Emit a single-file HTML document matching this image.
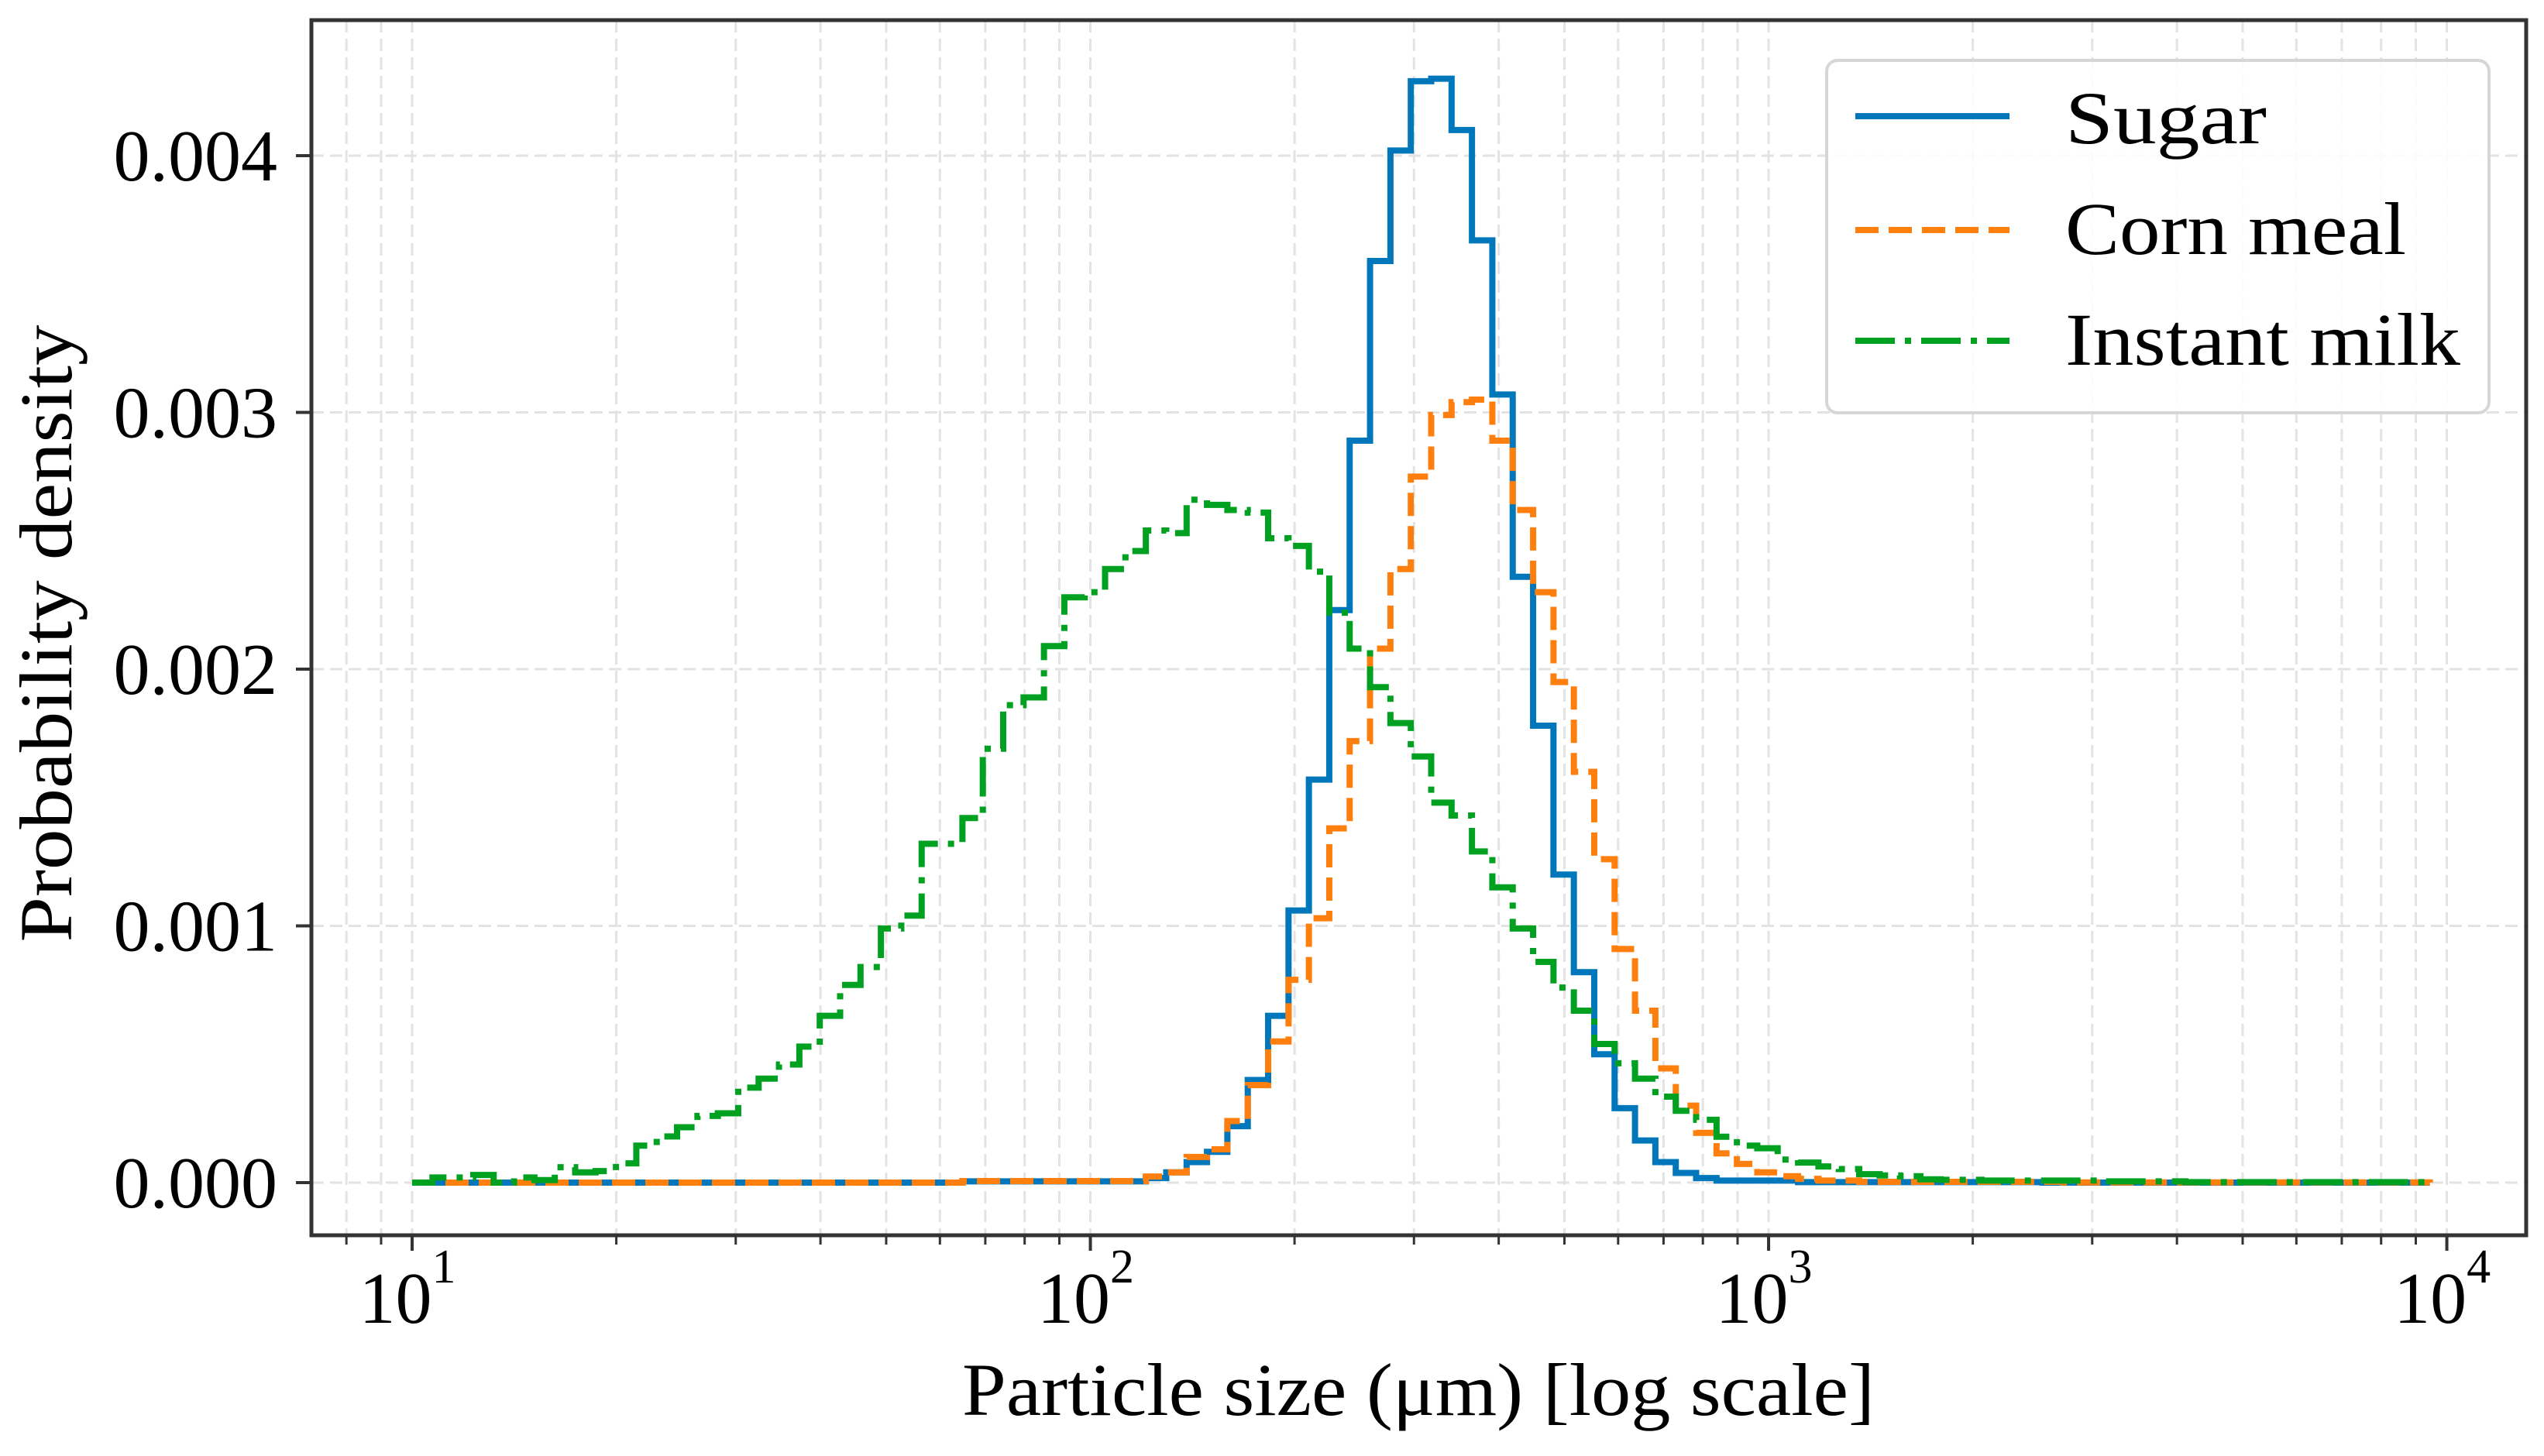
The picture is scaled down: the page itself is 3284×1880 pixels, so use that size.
<!DOCTYPE html>
<html><head><meta charset="utf-8"><style>
html,body{margin:0;padding:0;background:#fff;}
svg{display:block;font-family:"Liberation Serif",serif;}
</style></head><body>
<svg id="chart" width="3284" height="1880" viewBox="0 0 3284 1880" xmlns="http://www.w3.org/2000/svg">
<rect x="0" y="0" width="3284" height="1880" fill="#fff"/>
<g id="grid"></g>
<g id="series"></g>
<g id="axes"></g>
<g id="legend"></g>
</svg>
<script>
// ---- data ----
const seriesNames = ["Sugar", "Corn meal", "Instant milk"];
const binLogStart = 1;
const binLogEnd = 3.975;
const sugar = [0,0,0,0,0,0,0,0,0,0, 0,0,0,0,0,0,0,0,0,0, 0,0,0,0,0,0,0,0.000005,0.000005,0.000005,
 0.000005,0.000005,0.000005,0.000005,0.000005,0.000005,0.000018,0.00004,0.00008,0.00012,
 0.00022,0.0004,0.00065,0.00106,0.00157,0.00223,0.00289,0.00359,0.00402,0.00429,
 0.00430,0.00410,0.00367,0.00307,0.00236,0.00178,0.0012,0.00082,0.0005,0.00029,
 0.000164,0.00008,0.000038,0.000018,0.000008,0.000008,0.000008,0.000008,0.000002,0.000002,
 0.000002,0.000002,0.000002,0.000002,0.000002,0.000002,0.000002,0.000002,0.000002,0.000002,
 0,0,0,0,0,0,0,0,0,0, 0,0,0,0,0,0,0,0,0];
const cornMeal = [0,0,0,0,0,0,0,0,0,0, 0,0,0,0,0,0,0,0,0,0, 0,0,0,0,0,0,0,0.000006,0.000006,0.000006,
 0.000006,0.000006,0.000006,0.000006,0.000006,0.000006,0.000024,0.00004,0.0001,0.00013,
 0.00024,0.00038,0.00055,0.00079,0.00103,0.00138,0.00172,0.00208,0.00239,0.00275,
 0.00299,0.00304,0.00305,0.00289,0.00262,0.0023,0.00195,0.0016,0.00126,0.00091,
 0.00067,0.000445,0.0003,0.000194,0.000114,0.000073,0.00004,0.000025,0.000015,0.000008,
 0.000008,0.000003,0.000003,0.000003,0.000003,0.000003,0.000003,0.000003,0.000003,0.000003,
 0.000003,0.000001,0.000001,0.000001,0.000001,0.000001,0.000001,0.000001,0.000001,0.000001,
 0.000001,0.000001,0.000001,0.000001,0.000001,0.000001,0.000001,0.000001,0.000001];
const instantMilk = [0,0.00002,0.00002,0.00003,0,0.00002,0.00001,0.00006,0.00004,0.000045,
 0.000075,0.000144,0.00018,0.000216,0.00026,0.00027,0.00037,0.000405,0.00046,0.00053,
 0.00065,0.00077,0.00084,0.00099,0.00104,0.00132,0.00132,0.00142,0.00169,0.00186,
 0.00189,0.00209,0.00228,0.0023,0.00239,0.00246,0.00254,0.00253,0.00266,0.00264,
 0.00262,0.00261,0.00251,0.00248,0.00238,0.00222,0.00208,0.00193,0.00179,0.00166,
 0.00148,0.00143,0.00129,0.00115,0.00099,0.00086,0.00076,0.00067,0.00054,0.000465,
 0.000405,0.000335,0.00028,0.000245,0.000179,0.000144,0.000134,0.00009,0.000078,0.000063,
 0.000053,0.000033,0.000028,0.000025,0.000013,0.000011,0.000011,0.000008,0.000008,0.000008,
 0.000008,0.000008,0.000008,0.000005,0.000005,0.000005,0.000005,0.000002,0.000002,0.000002,
 0.000002,0.000002,0.000002,0.000002,0.000002,0.000002,0.000002,0.000002,0.000002];
const yTicks = [0, 0.001, 0.002, 0.003, 0.004];
const yTickLabels = ["0.000", "0.001", "0.002", "0.003", "0.004"];
const xTickExps = [1, 2, 3, 4];

// ---- layout ----
const NS = "http://www.w3.org/2000/svg";
const L = 402, R = 3261, T = 26, B = 1595;
const xLogMin = 0.8515, xLogMax = 4.117;
const yMin = -0.000205, yMax = 0.004528;
function xs(logv){ return L + (logv - xLogMin) / (xLogMax - xLogMin) * (R - L); }
function ys(v){ return B - (v - yMin) / (yMax - yMin) * (B - T); }
function mk(tag, attrs, parent){
  const e = document.createElementNS(NS, tag);
  for (const k in attrs) e.setAttribute(k, attrs[k]);
  parent.appendChild(e); return e;
}
const grid = document.getElementById('grid');
const axes = document.getElementById('axes');
const seriesG = document.getElementById('series');
const legend = document.getElementById('legend');

// grid - x (major + minor)
for (let d = 0; d <= 4; d++) {
  for (let m = 1; m <= 9; m++) {
    const lv = d + Math.log10(m);
    if (lv < xLogMin || lv > xLogMax) continue;
    const x = xs(lv);
    const gl = mk('line', {x1:x, x2:x, y1:T, y2:B, stroke:'#e3e3e3', 'stroke-width':3, 'stroke-dasharray':'16,8'}, grid);
    
    
    const tk = mk('line', {x1:x, x2:x, y1:B, y2:B + (m === 1 ? 20 : 12), stroke:'#333', 'stroke-width': m === 1 ? 4 : 3}, axes);
    
    
  }
}
// grid - y
yTicks.forEach((v, i) => {
  const y = ys(v);
  const gl = mk('line', {x1:L, x2:R, y1:y, y2:y, stroke:'#e3e3e3', 'stroke-width':3, 'stroke-dasharray':'16,8'}, grid);
  
  
  const tk = mk('line', {x1:L - 20, x2:L, y1:y, y2:y, stroke:'#333', 'stroke-width':4}, axes);
  
  
  const t = mk('text', {x:358, y:y + 32, 'text-anchor':'end', 'font-size':94, fill:'#000'}, axes);
  t.textContent = yTickLabels[i];
  
  
});
// x tick labels
xTickExps.forEach(e => {
  const x = xs(e);
  const t = mk('text', {x:x - 6, y:1708, 'text-anchor':'middle', 'font-size':94, fill:'#000'}, axes);
  t.appendChild(document.createTextNode('10'));
  const sup = mk('tspan', {dy:-52, 'font-size':62}, t);
  sup.textContent = String(e);
  
  
});

// series
const nb = sugar.length;
const bw = (binLogEnd - binLogStart) / nb;
function stepPath(vals){
  let d = 'M' + xs(binLogStart).toFixed(2) + ',' + ys(0).toFixed(2);
  for (let i = 0; i < vals.length; i++) {
    const x0 = xs(binLogStart + i * bw), x1 = xs(binLogStart + (i + 1) * bw), y = ys(vals[i]);
    d += ' L' + x0.toFixed(2) + ',' + y.toFixed(2) + ' L' + x1.toFixed(2) + ',' + y.toFixed(2);
  }
  d += ' L' + xs(binLogStart + vals.length * bw).toFixed(2) + ',' + ys(0).toFixed(2);
  return d;
}
const styles = [
  {data: sugar, color:'#0077bb', dash:'none', name:'sugar-histogram'},
  {data: cornMeal, color:'#ff7f0e', dash:'30,13', name:'corn-meal-histogram'},
  {data: instantMilk, color:'#00a020', dash:'51,13,8,13', name:'instant-milk-histogram'}
];
styles.forEach(s => {
  const p = mk('path', {d: stepPath(s.data), fill:'none', stroke:s.color, 'stroke-width':8, 'stroke-dasharray':s.dash, 'stroke-linejoin':'miter'}, seriesG);
  
  
});

// spines
const fr = mk('rect', {x:L, y:T, width:R - L, height:B - T, fill:'none', stroke:'#333', 'stroke-width':5}, axes);



// axis titles
const xt = mk('text', {x:1831, y:1827, 'text-anchor':'middle', 'font-size':96, fill:'#000', textLength:1178, lengthAdjust:'spacingAndGlyphs'}, axes);
xt.textContent = 'Particle size (μm) [log scale]';


const yt = mk('text', {x:0, y:0, 'text-anchor':'middle', 'font-size':96, fill:'#000', textLength:797, lengthAdjust:'spacingAndGlyphs', transform:'translate(92,818) rotate(-90)'}, axes);
yt.textContent = 'Probability density';



// legend
const lb = mk('rect', {x:2358, y:78, width:855, height:455, rx:14, ry:14, fill:'#fff', 'fill-opacity':0.85, stroke:'#d6d6d6', 'stroke-width':4}, legend);


const legY = [150, 297, 440];
const legText = [185, 328, 471];
const legW = [260, 440, 510];
styles.forEach((s, i) => {
  const ln = mk('line', {x1:2395, x2:2594, y1:legY[i], y2:legY[i], stroke:s.color, 'stroke-width':8, 'stroke-dasharray':s.dash}, legend);
  
  
  const t = mk('text', {x:2666, y:legText[i], 'font-size':96, fill:'#000', textLength:legW[i], lengthAdjust:'spacingAndGlyphs'}, legend);
  t.textContent = seriesNames[i];
  
  
});
</script>
</body></html>
